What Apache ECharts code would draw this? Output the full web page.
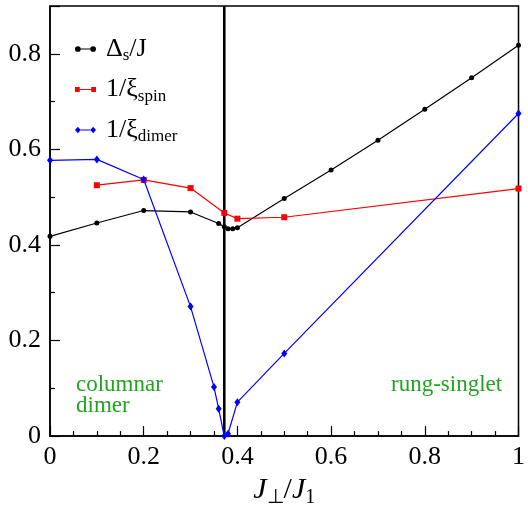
<!DOCTYPE html>
<html>
<head>
<meta charset="utf-8">
<script src="https://cdn.jsdelivr.net/npm/echarts@6/dist/echarts.min.js"></script>
<style>
html,body{margin:0;padding:0;background:#fff;}
#chart{width:528px;height:513px;}
</style>
</head>
<body>
<div id="chart"></div>
<script>
// Data
var gapX = [0, 0.1, 0.2, 0.3, 0.36, 0.372, 0.38, 0.39, 0.4, 0.5, 0.6, 0.7, 0.8, 0.9, 1.0];
var gapY = [0.418, 0.446, 0.472, 0.469, 0.445, 0.438, 0.434, 0.434, 0.436, 0.497, 0.557, 0.619, 0.684, 0.750, 0.818];

var spinX = [0.1, 0.2, 0.3, 0.372, 0.4, 0.5, 1.0];
var spinY = [0.525, 0.536, 0.519, 0.467, 0.455, 0.458, 0.518];

var dimerX = [0, 0.1, 0.2, 0.3, 0.35, 0.36, 0.372, 0.38, 0.4, 0.5, 1.0];
var dimerY = [0.577, 0.579, 0.537, 0.271, 0.103, 0.057, 0.0, 0.005, 0.071, 0.173, 0.675];

var transitionX = [0.372, 0.372];
var transitionY = [0, 0.9];

var xTicks = [0, 0.2, 0.4, 0.6, 0.8, 1];
var yTicks = [0, 0.2, 0.4, 0.6, 0.8];

function pairs(xs, ys){ return xs.map(function(x,i){ return [x, ys[i]]; }); }

var SERIF = 'Liberation Serif';
var chart = echarts.init(document.getElementById('chart'));

function fmtTick(list){
  return function(v){
    for (var i=0;i<list.length;i++){
      if (Math.abs(v-list[i])<1e-9){
        return (list[i]===0||list[i]===1) ? String(list[i]) : list[i].toFixed(1);
      }
    }
    return '';
  };
}

var subRich = {
  n:{fontFamily:SERIF,fontSize:26,color:'#000',lineHeight:30},
  s:{fontFamily:SERIF,fontSize:17,color:'#000',padding:[14,0,0,0]}
};

var option = {
  animation:false,
  backgroundColor:'#fff',
  textStyle:{fontFamily:SERIF},
  grid:{left:50,right:6,top:6,bottom:75,show:true,borderColor:'#000',borderWidth:1.5,backgroundColor:'transparent'},
  legend:{
    orient:'vertical', left:70, top:31, itemGap:12, itemWidth:21, itemHeight:7,
    data:[
      {name:'gap', icon:'path://M0,3 A3,3 0 1,1 6,3 A3,3 0 1,1 0,3 Z M16,3 A3,3 0 1,1 22,3 A3,3 0 1,1 16,3 Z M6,2.4 L16,2.4 L16,3.6 L6,3.6 Z'},
      {name:'spin', icon:'path://M0,0.5 L5,0.5 L5,5.5 L0,5.5 Z M17,0.5 L22,0.5 L22,5.5 L17,5.5 Z M5,2.4 L17,2.4 L17,3.6 L5,3.6 Z'},
      {name:'dimer', icon:'path://M0,3.5 L3,0 L6,3.5 L3,7 Z M16,3.5 L19,0 L22,3.5 L19,7 Z M6,2.9 L16,2.9 L16,4.1 L6,4.1 Z'}
    ],
    formatter:function(name){
      if(name==='gap') return '{n|Δ}{s|s}{n|/J}';
      if(name==='spin') return '{n|1/ξ}{s|spin}';
      return '{n|1/ξ}{s|dimer}';
    },
    textStyle:{fontFamily:SERIF,rich:subRich, padding:[0,0,0,5]}
  },
  xAxis:{
    type:'value', min:0, max:1, interval:0.2,
    axisLine:{show:true,lineStyle:{color:'#000',width:1.5}},
    axisTick:{show:true,inside:true,length:10,lineStyle:{color:'#000',width:1.2}},
    minorTick:{show:true,splitNumber:4,length:5,lineStyle:{color:'#000',width:1.2}},
    splitLine:{show:false},
    axisLabel:{fontFamily:SERIF,fontSize:26,color:'#000',margin:8,formatter:fmtTick(xTicks)},
    name:'{i|J}{b|⊥}{n|/}{i|J}{b|1}',
    nameLocation:'middle', nameGap:34,
    nameTextStyle:{rich:{
      i:{fontFamily:SERIF,fontStyle:'italic',fontSize:30,color:'#000',lineHeight:34},
      n:{fontFamily:SERIF,fontSize:30,color:'#000',lineHeight:34},
      b:{fontFamily:SERIF,fontSize:20,color:'#000',padding:[16,0,0,0]}
    }}
  },
  yAxis:{
    type:'value', min:0, max:0.9, interval:0.2,
    axisLine:{show:true,lineStyle:{color:'#000',width:1.5}},
    axisTick:{show:true,inside:true,length:10,lineStyle:{color:'#000',width:1.2}},
    minorTick:{show:true,splitNumber:2,length:5,lineStyle:{color:'#000',width:1.2}},
    splitLine:{show:false},
    axisLabel:{fontFamily:SERIF,fontSize:26,color:'#000',margin:9,formatter:fmtTick(yTicks),showMaxLabel:false}
  },
  graphic:[
    {type:'text',left:76,top:373,style:{text:'columnar\ndimer',font:'23px "Liberation Serif"',lineHeight:21,fill:'#22a422'}},
    {type:'text',left:391,top:373,style:{text:'rung-singlet',font:'23px "Liberation Serif"',lineHeight:21,fill:'#22a422'}}
  ],
  series:[
    {name:'transition',type:'line',data:pairs(transitionX,transitionY),symbol:'none',
     lineStyle:{color:'#000',width:2.6},z:1,silent:true},
    {name:'gap',type:'line',data:pairs(gapX,gapY),symbol:'circle',symbolSize:5,
     itemStyle:{color:'#000'},lineStyle:{color:'#000',width:1.2},z:2},
    {name:'spin',type:'line',data:pairs(spinX,spinY),symbol:'rect',symbolSize:6,
     itemStyle:{color:'#ff0000'},lineStyle:{color:'#ff0000',width:1.2},z:3},
    {name:'dimer',type:'line',data:pairs(dimerX,dimerY),symbol:'diamond',symbolSize:[6,8],
     itemStyle:{color:'#0000ff'},lineStyle:{color:'#0000ff',width:1.2},z:4}
  ]
};
chart.setOption(option);
</script>
</body>
</html>
